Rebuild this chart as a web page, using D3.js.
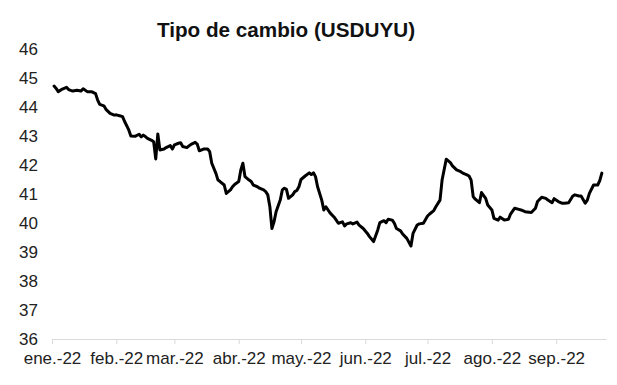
<html lang="es">
<head>
  <meta charset="UTF-8">
  <title>Tipo de cambio (USDUYU)</title>
  <script src="https://cdn.jsdelivr.net/npm/d3@7"></script>
  <style>
    body { margin: 0; background: #fff; }
    text { font-family: "Liberation Sans", Arial, sans-serif; }
  </style>
</head>
<body>
  <div id="chart"></div>
  <script>
    // fechas y valores
    const fechas = [
      "2022-01-02","2022-01-03","2022-01-04","2022-01-06","2022-01-08","2022-01-09","2022-01-11","2022-01-13",
      "2022-01-15","2022-01-16","2022-01-18","2022-01-20","2022-01-22","2022-01-23","2022-01-24","2022-01-26",
      "2022-01-27","2022-01-29","2022-01-31","2022-02-01","2022-02-03","2022-02-04","2022-02-05","2022-02-07",
      "2022-02-08","2022-02-10","2022-02-12","2022-02-13","2022-02-14","2022-02-15","2022-02-16","2022-02-18",
      "2022-02-19","2022-02-20","2022-02-21","2022-02-22","2022-02-24","2022-02-25","2022-02-27","2022-02-28",
      "2022-03-01","2022-03-03","2022-03-04","2022-03-05","2022-03-07","2022-03-08","2022-03-09","2022-03-11",
      "2022-03-12","2022-03-13","2022-03-15","2022-03-17","2022-03-18","2022-03-19","2022-03-21","2022-03-22",
      "2022-03-23","2022-03-25","2022-03-26","2022-03-28","2022-03-29","2022-03-30","2022-04-01","2022-04-02",
      "2022-04-03","2022-04-04","2022-04-06","2022-04-07","2022-04-08","2022-04-10","2022-04-11","2022-04-13",
      "2022-04-14","2022-04-15","2022-04-16","2022-04-17","2022-04-18","2022-04-19","2022-04-21","2022-04-22",
      "2022-04-23","2022-04-24","2022-04-25","2022-04-27","2022-04-28","2022-04-29","2022-04-30","2022-05-01",
      "2022-05-03","2022-05-05","2022-05-06","2022-05-07","2022-05-08","2022-05-09","2022-05-11","2022-05-12",
      "2022-05-13","2022-05-15","2022-05-17","2022-05-18","2022-05-19","2022-05-21","2022-05-22","2022-05-23",
      "2022-05-25","2022-05-26","2022-05-28","2022-05-29","2022-05-31","2022-06-02","2022-06-03","2022-06-05",
      "2022-06-07","2022-06-08","2022-06-10","2022-06-11","2022-06-12","2022-06-14","2022-06-15","2022-06-16",
      "2022-06-18","2022-06-19","2022-06-21","2022-06-23","2022-06-24","2022-06-26","2022-06-27","2022-06-29",
      "2022-07-01","2022-07-02","2022-07-04","2022-07-05","2022-07-07","2022-07-08","2022-07-10","2022-07-12",
      "2022-07-13","2022-07-15","2022-07-17","2022-07-18","2022-07-20","2022-07-21","2022-07-22","2022-07-23",
      "2022-07-24","2022-07-25","2022-07-26","2022-07-27","2022-07-29","2022-07-30","2022-08-01","2022-08-02",
      "2022-08-04","2022-08-05","2022-08-07","2022-08-09","2022-08-10","2022-08-12","2022-08-14","2022-08-15",
      "2022-08-17","2022-08-19","2022-08-20","2022-08-22","2022-08-23","2022-08-25","2022-08-27","2022-08-28",
      "2022-08-30","2022-08-31","2022-09-02","2022-09-04","2022-09-05","2022-09-07","2022-09-09","2022-09-10",
      "2022-09-12","2022-09-13","2022-09-15","2022-09-16","2022-09-17","2022-09-19","2022-09-21","2022-09-22",
      "2022-09-23"
    ];
    const valores = [
      44.72,44.64,44.53,44.62,44.68,44.60,44.55,44.58,
      44.55,44.63,44.53,44.53,44.46,44.24,44.09,44.04,
      43.92,43.78,43.72,43.73,43.69,43.67,43.50,43.21,
      43.00,42.99,43.06,42.97,43.03,42.98,42.92,42.85,
      42.80,42.21,43.07,42.52,42.55,42.60,42.67,42.55,
      42.69,42.75,42.77,42.64,42.60,42.66,42.71,42.78,
      42.72,42.49,42.55,42.55,42.46,42.06,41.71,41.48,
      41.43,41.31,41.02,41.14,41.25,41.33,41.43,41.83,
      42.06,41.60,41.48,41.43,41.31,41.25,41.20,41.14,
      41.08,40.97,40.56,39.81,40.04,40.39,40.79,41.14,
      41.20,41.16,40.85,40.97,41.08,41.12,41.25,41.50,
      41.62,41.73,41.67,41.73,41.60,41.25,40.79,40.45,
      40.56,40.35,40.20,40.10,39.99,40.04,39.90,39.97,
      40.01,39.97,40.03,39.93,39.81,39.64,39.53,39.36,
      39.76,40.01,40.08,40.01,40.13,40.10,39.99,39.81,
      39.73,39.62,39.47,39.21,39.64,39.93,39.97,39.99,
      40.24,40.31,40.43,40.56,40.79,41.48,42.20,42.08,
      41.97,41.83,41.77,41.72,41.66,41.62,41.48,40.91,
      40.82,40.76,40.70,41.05,40.85,40.62,40.45,40.16,
      40.10,40.20,40.10,40.13,40.31,40.51,40.47,40.45,
      40.39,40.37,40.36,40.51,40.74,40.89,40.85,40.79,
      40.70,40.84,40.74,40.68,40.68,40.70,40.93,40.97,
      40.93,40.93,40.68,40.79,41.02,41.31,41.31,41.46,
      41.72
    ];
    const meses = ["ene.-22","feb.-22","mar.-22","abr.-22","may.-22","jun.-22","jul.-22","ago.-22","sep.-22"];
    const yTicks = [36, 37, 38, 39, 40, 41, 42, 43, 44, 45, 46];

    const width = 617, height = 385;
    const margin = { top: 49, right: 11, bottom: 46, left: 52 };

    const parse = d3.timeParse("%Y-%m-%d");
    const data = fechas.map((f, i) => ({ date: parse(f), value: valores[i] }));

    const svg = d3.select("#chart")
      .append("svg")
      .attr("width", width)
      .attr("height", height);

    const x = d3.scaleTime()
      .domain([parse("2022-01-01"), parse("2022-09-25")])
      .range([margin.left, width - margin.right]);

    const y = d3.scaleLinear()
      .domain([36, 46])
      .range([height - margin.bottom, margin.top]);

    // titulo
    svg.append("text")
      .attr("x", 286)
      .attr("y", 37)
      .attr("text-anchor", "middle")
      .attr("font-size", "20.7px")
      .attr("font-weight", "bold")
      .attr("fill", "#111")
      .text("Tipo de cambio (USDUYU)");

    // eje y: solo etiquetas
    svg.append("g")
      .selectAll("text")
      .data(yTicks)
      .enter()
      .append("text")
      .attr("x", margin.left - 14)
      .attr("y", d => y(d))
      .attr("dy", "0.35em")
      .attr("text-anchor", "end")
      .attr("font-size", "17px")
      .attr("fill", "#222")
      .text(d => d);

    // eje x
    const monthStarts = meses.map((m, i) => new Date(2022, i, 1));
    const xAxis = d3.axisBottom(x)
      .tickValues(monthStarts)
      .tickFormat((d, i) => meses[i])
      .tickSize(5)
      .tickSizeOuter(0);

    const gx = svg.append("g")
      .attr("transform", "translate(0," + y(36) + ")")
      .call(xAxis);
    gx.select(".domain").attr("stroke", "#d9d9d9").attr("stroke-width", 1.2);
    gx.selectAll(".tick line").attr("stroke", "#d9d9d9");
    gx.selectAll(".tick text")
      .attr("font-family", "Liberation Sans, Arial, sans-serif")
      .attr("font-size", "17px")
      .attr("fill", "#222")
      .attr("y", 13);

    // linea
    const line = d3.line()
      .x(d => x(d.date))
      .y(d => y(d.value));

    svg.append("path")
      .datum(data)
      .attr("fill", "none")
      .attr("stroke", "#000")
      .attr("stroke-width", 3)
      .attr("stroke-linejoin", "round")
      .attr("stroke-linecap", "round")
      .attr("d", line);
  </script>
</body>
</html>
